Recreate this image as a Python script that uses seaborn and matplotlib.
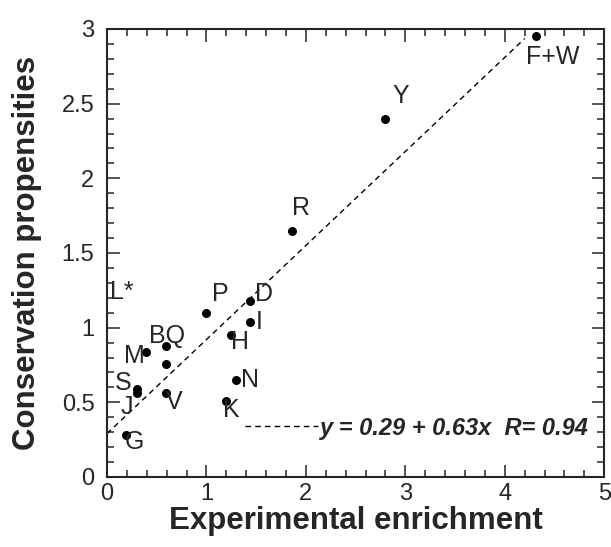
import numpy as np
import pandas as pd
import matplotlib
matplotlib.use('Agg')
import matplotlib.pyplot as plt
from matplotlib.ticker import MultipleLocator, FormatStrFormatter
import seaborn as sns

# Data
labels = ['F+W', 'Y', 'R', 'P', 'D', 'I', 'H', 'BQ', '', 'M', 'S', 'J', 'V', 'N', 'K', 'G']
enrichment = [4.31, 2.80, 1.86, 1.00, 1.44, 1.44, 1.25, 0.59, 0.59, 0.39, 0.30, 0.30, 0.59, 1.30, 1.20, 0.19]
propensity = [2.95, 2.40, 1.65, 1.10, 1.18, 1.04, 0.95, 0.88, 0.755, 0.84, 0.59, 0.56, 0.56, 0.65, 0.51, 0.28]

# fitted line as printed on the chart
intercept = 0.29
slope = 0.63
R = 0.94
fit_x = [0.0, 4.2]

df = pd.DataFrame({'x': enrichment, 'y': propensity, 'label': labels})
fit = pd.DataFrame({'x': fit_x})
fit['y'] = intercept + slope * fit['x']

sns.set_style('ticks')
plt.rcParams['font.family'] = ['Liberation Sans', 'DejaVu Sans']

fig = plt.figure(figsize=(6.11, 5.47), dpi=100)
ax = fig.add_axes([0.175, 0.128, 0.814, 0.819])

eq = f'y = {intercept:.2f} + {slope:.2f}x  R= {R:.2f}'
sns.lineplot(x='x', y='y', data=fit, ax=ax, color='black', lw=1.0,
             dashes=False, label=eq)
ax.lines[-1].set_dashes((4, 3))
sns.scatterplot(x='x', y='y', data=df, ax=ax, color='black', s=42,
                edgecolor='black', linewidth=0, zorder=3)

# label offsets (points) from each dot
offsets = [(12, -15), (11, 16), (6.5, 16.5), (10, 13.5), (10, 5), (6.5, 0),
           (6, -5), (1, 7), (0, 0), (-8, -3.5), (-9.5, 4.5), (-7, -9.5),
           (6.5, -6.5), (10, 0), (3.5, -6.5), (6.5, -5)]
for (_, row), off in zip(df.iterrows(), offsets):
    if row['label']:
        ax.annotate(row['label'], (row['x'], row['y']), xytext=off,
                    textcoords='offset points', ha='center', va='center',
                    fontsize=18)
ax.text(0.15, 1.24, 'L*', fontsize=18, ha='center', va='center')

ax.set_xlim(0, 5)
ax.set_ylim(0, 3)
ax.xaxis.set_major_locator(MultipleLocator(1))
ax.xaxis.set_minor_locator(MultipleLocator(0.2))
ax.yaxis.set_major_locator(MultipleLocator(0.5))
ax.yaxis.set_minor_locator(MultipleLocator(0.1))
ax.yaxis.set_major_formatter(FormatStrFormatter('%g'))

ax.tick_params(which='both', direction='in', top=True, right=True, width=1.1)
ax.tick_params(which='major', length=9, labelsize=17)
ax.tick_params(axis='y', which='major', pad=9)
ax.tick_params(axis='x', which='major', pad=4)
ax.tick_params(which='minor', length=5)
for s in ax.spines.values():
    s.set_linewidth(1.5)

ax.set_xlabel('Experimental enrichment', fontsize=22.5, fontweight='bold', labelpad=1)
ax.set_ylabel('Conservation propensities', fontsize=22.5, fontweight='bold')
ax.yaxis.set_label_coords(-0.13, 0.5)

leg = ax.legend(loc='center left', bbox_to_anchor=(0.277, 0.109), frameon=False,
                handlelength=3.1, handletextpad=0.1, borderpad=0, borderaxespad=0,
                prop={'size': 17, 'weight': 'bold', 'style': 'italic'})

fig.savefig('out.png', dpi=100)
